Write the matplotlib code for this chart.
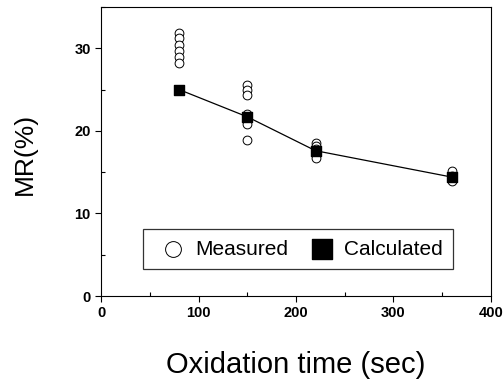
import matplotlib
matplotlib.use("Agg")
import matplotlib.pyplot as plt
from matplotlib.ticker import MultipleLocator

plt.rcParams['font.family'] = ['Liberation Sans', 'DejaVu Sans']

# measured MR values at each oxidation time
meas_x = [80] * 6 + [150] * 6 + [220] * 5 + [360] * 3
meas_y = [31.8, 31.2, 30.4, 29.7, 29.0, 28.2,
          25.5, 25.0, 24.4, 22.0, 20.8, 18.9,
          18.5, 18.2, 17.8, 17.2, 16.7,
          15.2, 14.5, 13.9]

# calculated MR
calc_x = [80, 150, 220, 360]
calc_y = [25.0, 21.7, 17.6, 14.4]

fig = plt.figure(figsize=(5.03, 3.87), dpi=100)
ax = fig.add_axes([0.201, 0.235, 0.775, 0.747])

ax.plot(calc_x, calc_y, color='black', lw=0.9, zorder=2)
ax.scatter(meas_x, meas_y, s=40, facecolors='white', edgecolors='black',
           linewidths=0.7, zorder=3, label='Measured')
ax.scatter(calc_x, calc_y, s=60, marker='s', color='black', zorder=4,
           label='Calculated')

ax.set_xlim(0, 400)
ax.set_ylim(0, 35)
ax.xaxis.set_major_locator(MultipleLocator(100))
ax.xaxis.set_minor_locator(MultipleLocator(50))
ax.yaxis.set_major_locator(MultipleLocator(10))
ax.yaxis.set_minor_locator(MultipleLocator(5))
ax.tick_params(which='major', direction='out', length=4, width=0.8)
ax.tick_params(which='minor', direction='in', length=3, width=0.8)
for lab in ax.get_xticklabels() + ax.get_yticklabels():
    lab.set_fontweight('bold')
    lab.set_fontsize(10.5)

ax.set_xlabel('Oxidation time (sec)', fontsize=21)
ax.xaxis.set_label_coords(0.5, -0.19)
ax.set_ylabel('MR(%)', fontsize=19)
ax.yaxis.set_label_coords(-0.164, 0.493)

leg = ax.legend(loc='lower center', bbox_to_anchor=(0.505, 0.093), ncol=2,
                fontsize=15, frameon=True, fancybox=False, edgecolor='black',
                handletextpad=0.1, columnspacing=0.7, borderpad=0.5,
                borderaxespad=0, handlelength=1.9, markerscale=1.8)
leg.get_frame().set_linewidth(0.9)

plt.savefig('out.png', dpi=100)
